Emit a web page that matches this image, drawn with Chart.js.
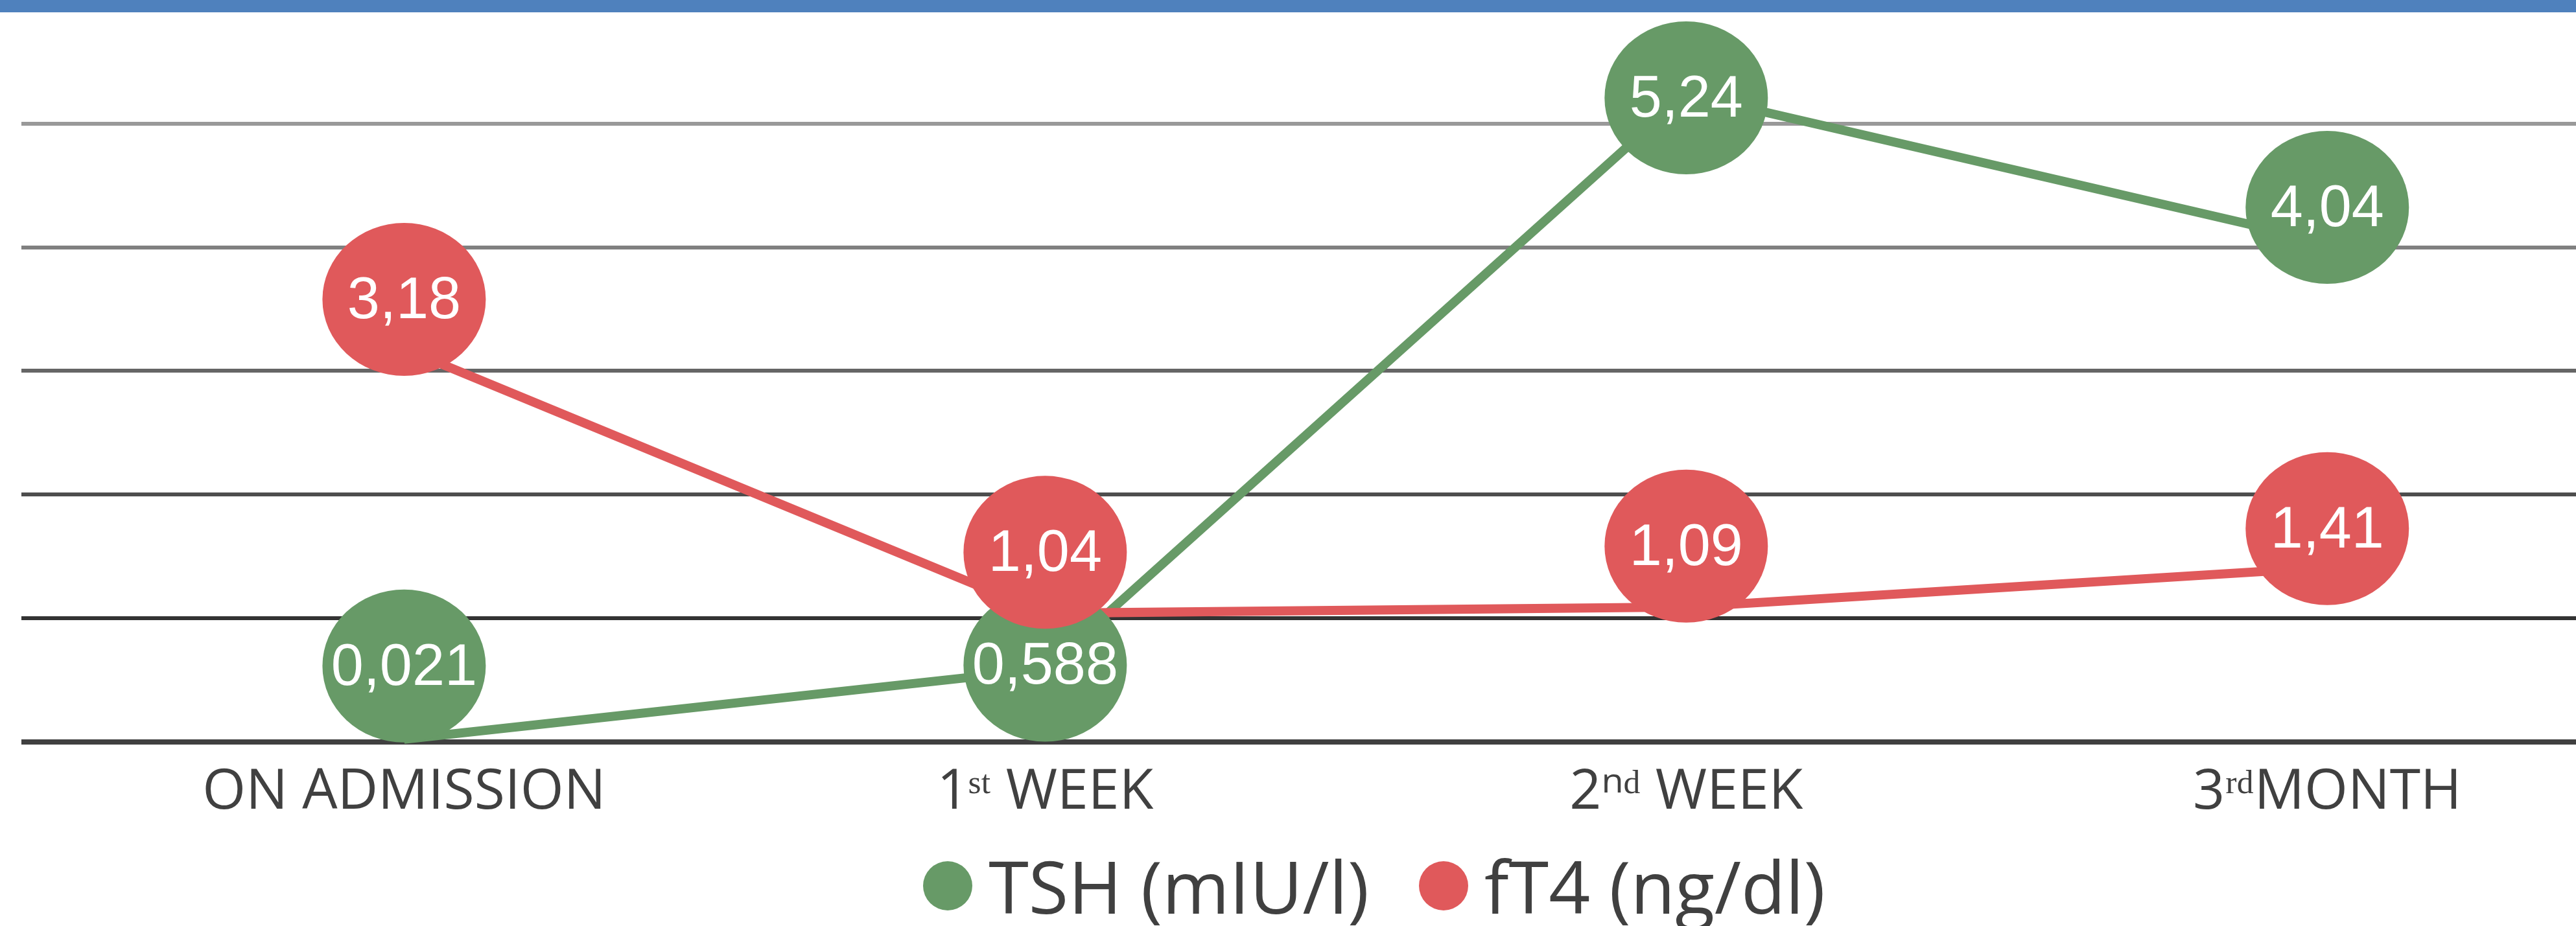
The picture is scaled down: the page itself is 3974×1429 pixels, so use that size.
<!DOCTYPE html>
<html>
<head>
<meta charset="utf-8">
<script src="https://cdn.jsdelivr.net/npm/chart.js@4.4.1/dist/chart.umd.min.js"></script>
<style>
  body { margin: 0; background: #fff; }
  #wrap { position: relative; width: 3974px; height: 1429px; }
  #legend {
    position: absolute; left: 0; top: 1311px; width: 3974px;
    box-sizing: border-box; padding-left: 266px;
    display: flex; justify-content: center; align-items: center;
    font-family: "Open Sans", sans-serif; font-size: 112px; line-height: 1; color: #404040;
  }
  #legend .item { display: flex; align-items: center; margin-right: 77px; }
  #legend .item:last-child { margin-right: 0; }
  #legend .dot { width: 76px; height: 76px; border-radius: 50%; margin-right: 25px; }
</style>
</head>
<body>
<div id="wrap">
  <canvas id="myChart" width="3974" height="1429"></canvas>
  <div id="legend"></div>
</div>
<script>
var timeLabels = ['ON ADMISSION', '1ˢᵗ WEEK', '2ⁿᵈ WEEK', '3ʳᵈMONTH'];
var tshValues = [0.021, 0.588, 5.24, 4.04];
var ft4Values = [3.18, 1.04, 1.09, 1.41];
var yTicks = [0, 1, 2, 3, 4, 5];

var green = '#679a67';
var red = '#e0595b';
// baseline first, then lighter going up
var gridColors = ['#404040', '#333333', '#4d4d4d', '#666666', '#808080', '#999999'];

function toPoints(values) {
  return values.map(function (v, i) { return {x: i, y: v}; });
}

// oval value labels + the blue strip on top
var bubbles = {
  id: 'bubbles',
  afterDatasetsDraw: function (chart) {
    var ctx = chart.ctx;
    ctx.save();
    ctx.font = '90px "Liberation Sans", Arial, sans-serif';
    ctx.textAlign = 'center';
    ctx.textBaseline = 'middle';
    chart.data.datasets.forEach(function (ds, di) {
      var meta = chart.getDatasetMeta(di);
      meta.data.forEach(function (pt, i) {
        var y = pt.y + ds.labelShift[i];
        ctx.fillStyle = ds.borderColor;
        ctx.beginPath();
        ctx.ellipse(pt.x, y, 126, 118, 0, 0, Math.PI * 2);
        ctx.fill();
        ctx.fillStyle = '#ffffff';
        ctx.fillText(String(ds.data[i].y).replace('.', ','), pt.x, y + 4);
      });
    });
    ctx.restore();
  },
  afterDraw: function (chart) {
    chart.ctx.fillStyle = '#4f81bd';
    chart.ctx.fillRect(0, 0, chart.width, 19);
  }
};

var ctx = document.getElementById('myChart');
var myChart = new Chart(ctx, {
  type: 'line',
  data: {
    datasets: [{
      label: 'TSH (mIU/l)',
      data: toPoints(tshValues),
      borderColor: green,
      backgroundColor: green,
      borderWidth: 14,
      tension: 0,
      pointRadius: 0,
      order: 1,
      clip: false,
      labelShift: [-113, -6, 6, -54]
    }, {
      label: 'fT4 (ng/dl)',
      data: toPoints(ft4Values),
      borderColor: red,
      backgroundColor: red,
      borderWidth: 14,
      tension: 0,
      pointRadius: 0,
      order: 0,
      clip: false,
      labelShift: [-76, -94, -94, -60]
    }]
  },
  options: {
    responsive: false,
    animation: false,
    layout: { padding: { left: 33, top: 0, right: 0, bottom: 135 } },
    plugins: {
      tooltip: { enabled: false },
      legend: { display: false }
    },
    scales: {
      x: {
        type: 'linear',
        min: -0.597,
        max: 3.388,
        afterBuildTicks: function (scale) {
          scale.ticks = timeLabels.map(function (l, i) { return {value: i}; });
        },
        ticks: {
          callback: function (v) { return timeLabels[v]; },
          padding: 19,
          maxRotation: 0,
          autoSkip: false,
          color: '#404040',
          font: { family: '"Open Sans"', size: 86 }
        },
        grid: { display: false },
        border: { display: false }
      },
      y: {
        min: 0,
        max: 6,
        afterBuildTicks: function (scale) {
          scale.ticks = yTicks.map(function (v) { return {value: v}; });
        },
        ticks: { display: false },
        grid: {
          color: function (c) { return gridColors[c.index]; },
          lineWidth: function (c) { return c.index === 0 ? 8 : 6; },
          drawTicks: false
        },
        border: { display: false }
      }
    }
  },
  plugins: [bubbles]
});

// legend drawn as html under the axis
var legend = document.getElementById('legend');
myChart.data.datasets.forEach(function (ds) {
  var item = document.createElement('div');
  item.className = 'item';
  var dot = document.createElement('span');
  dot.className = 'dot';
  dot.style.background = ds.backgroundColor;
  item.appendChild(dot);
  item.appendChild(document.createTextNode(ds.label));
  legend.appendChild(item);
});
</script>
</body>
</html>
